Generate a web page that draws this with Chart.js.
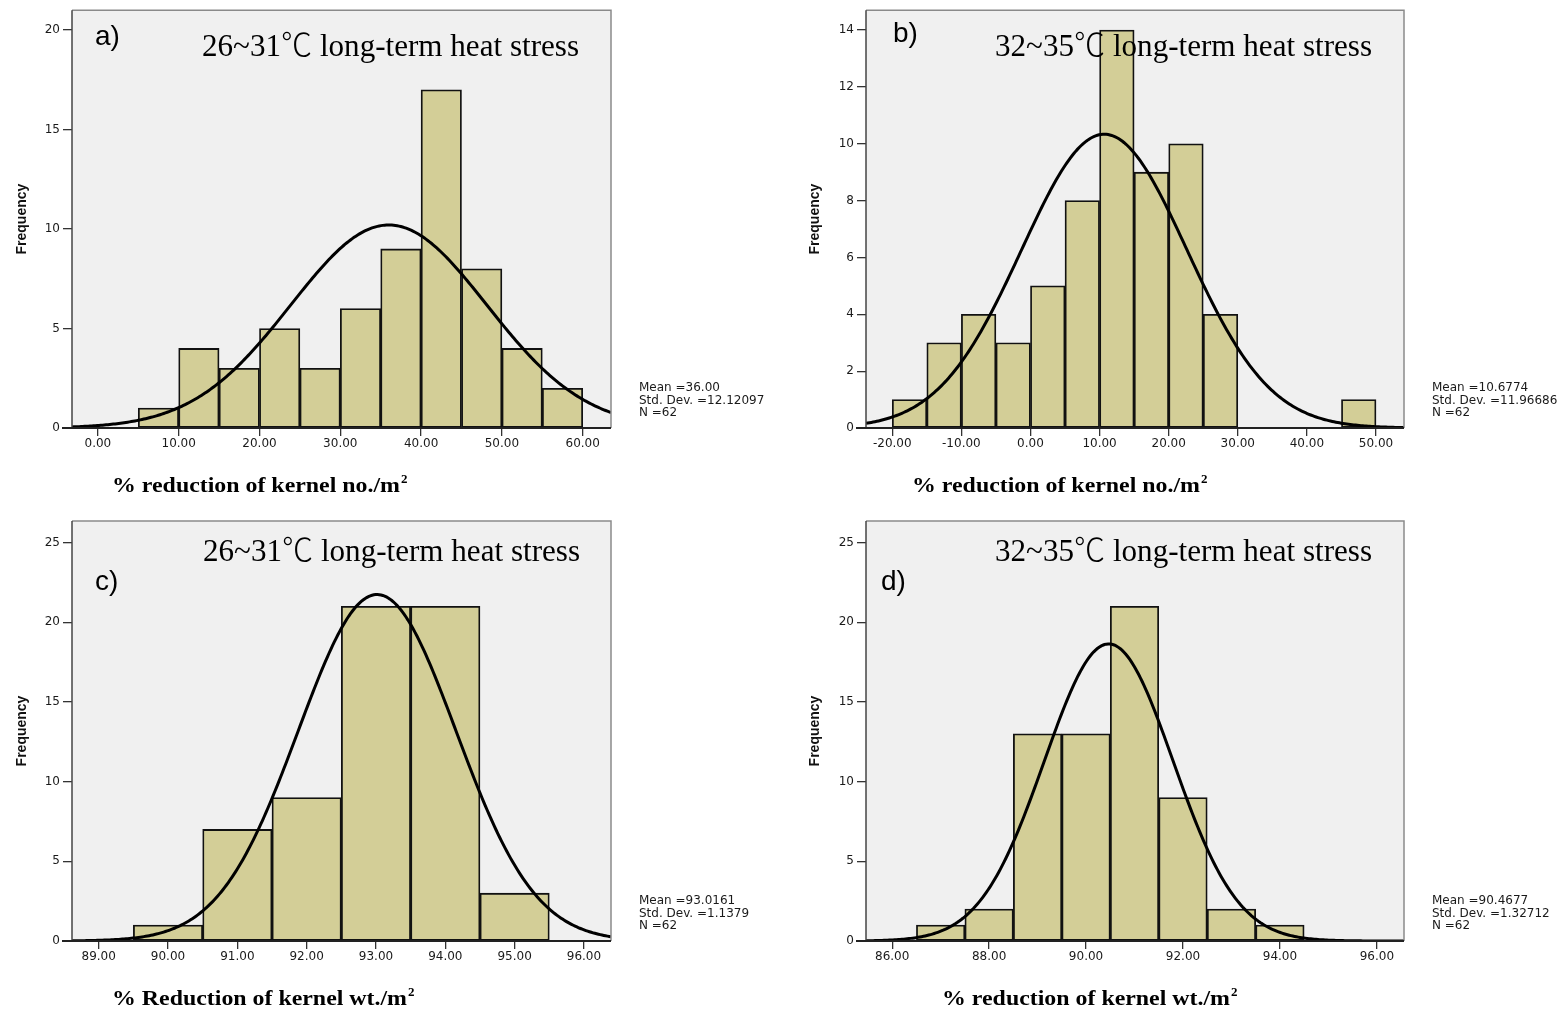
<!DOCTYPE html>
<html>
<head>
<meta charset="utf-8">
<title>Kernel reduction histograms</title>
<script src="https://cdn.jsdelivr.net/npm/chart.js@4.4.1/dist/chart.umd.min.js"></script>
<style>
  html, body { margin: 0; padding: 0; background: #fff; }
  body { width: 1568px; height: 1013px; position: relative; overflow: hidden; }
  .panel { position: absolute; }
  .panel canvas { display: block; }
</style>
</head>
<body>
<div class="panel" style="left:0;top:0"><canvas id="histA" width="784" height="506"></canvas></div>
<div class="panel" style="left:784px;top:0"><canvas id="histB" width="784" height="506"></canvas></div>
<div class="panel" style="left:0;top:506px"><canvas id="histC" width="784" height="507"></canvas></div>
<div class="panel" style="left:784px;top:506px"><canvas id="histD" width="784" height="507"></canvas></div>
<script>
// a) 26~31℃, % reduction of kernel no./m2 (bins of 5)
const binsA = [7.5, 12.5, 17.5, 22.5, 27.5, 32.5, 37.5, 42.5, 47.5, 52.5, 57.5];
const countsA = [1, 4, 3, 5, 3, 6, 9, 17, 8, 4, 2];
const xTicksA = [0, 10, 20, 30, 40, 50, 60];
const yTicksA = [0, 5, 10, 15, 20];
const statsA = ['36.00', '12.12097', '62'];

// b) 32~35℃, % reduction of kernel no./m2 (bins of 5)
const binsB = [-17.5, -12.5, -7.5, -2.5, 2.5, 7.5, 12.5, 17.5, 22.5, 27.5, 47.5];
const countsB = [1, 3, 4, 3, 5, 8, 14, 9, 10, 4, 1];
const xTicksB = [-20, -10, 0, 10, 20, 30, 40, 50];
const yTicksB = [0, 2, 4, 6, 8, 10, 12, 14];
const statsB = ['10.6774', '11.96686', '62'];

// c) 26~31℃, % reduction of kernel wt./m2 (bins of 1)
const binsC = [90, 91, 92, 93, 94, 95];
const countsC = [1, 7, 9, 21, 21, 3];
const xTicksC = [89, 90, 91, 92, 93, 94, 95, 96];
const yTicksC = [0, 5, 10, 15, 20, 25];
const statsC = ['93.0161', '1.1379', '62'];

// d) 32~35℃, % reduction of kernel wt./m2 (bins of 1)
const binsD = [87, 88, 89, 90, 91, 92, 93, 94];
const countsD = [1, 2, 13, 13, 21, 9, 2, 1];
const xTicksD = [86, 88, 90, 92, 94, 96];
const yTicksD = [0, 5, 10, 15, 20, 25];
const statsD = ['90.4677', '1.32712', '62'];

const SANS = "'Liberation Sans', Arial, sans-serif";
const TICK_FONT = "'DejaVu Sans', Verdana, sans-serif";
const SERIF = "'Liberation Serif', 'Times New Roman', 'Noto Sans CJK SC', serif";
const BAR_FILL = '#d3ce97';
const PLOT_BG = '#f0f0f0';

const panels = [
  {
    id: 'histA', bins: binsA, counts: countsA, xTicks: xTicksA, yTicks: yTicksA, stats: statsA, binWidth: 5,
    box: { left: 0, top: 0, width: 784, height: 506 },
    area: { l: 72, t: 8, r: 611, b: 428 },
    xRange: [-3.2, 63.5], yMax: 21, freqX: 22,
    label: { text: 'a)', x: 95, y: 45 },
    title: { text: '26~31\u2103 long-term heat stress', x: 202, y: 56, w: 377 },
    xTitle: { text: '% reduction of kernel no./m', x: 112, y: 492, w: 288 },
    statsPos: { x: 639, y: 391 }
  },
  {
    id: 'histB', bins: binsB, counts: countsB, xTicks: xTicksB, yTicks: yTicksB, stats: statsB, binWidth: 5,
    box: { left: 784, top: 0, width: 784, height: 506 },
    area: { l: 866, t: 8, r: 1404, b: 428 },
    xRange: [-23.8, 54.05], yMax: 14.7, freqX: 815,
    label: { text: 'b)', x: 893, y: 42 },
    title: { text: '32~35\u2103 long-term heat stress', x: 995, y: 56, w: 377 },
    xTitle: { text: '% reduction of kernel no./m', x: 912, y: 492, w: 288 },
    statsPos: { x: 1432, y: 391 }
  },
  {
    id: 'histC', bins: binsC, counts: countsC, xTicks: xTicksC, yTicks: yTicksC, stats: statsC, binWidth: 1,
    box: { left: 0, top: 506, width: 784, height: 507 },
    area: { l: 72, t: 521, r: 611, b: 941 },
    xRange: [88.615, 96.39], yMax: 26.35, freqX: 22,
    label: { text: 'c)', x: 95, y: 590 },
    title: { text: '26~31\u2103 long-term heat stress', x: 203, y: 561, w: 377 },
    xTitle: { text: '% Reduction of kernel wt./m', x: 112, y: 1005, w: 295 },
    statsPos: { x: 639, y: 904 }
  },
  {
    id: 'histD', bins: binsD, counts: countsD, xTicks: xTicksD, yTicks: yTicksD, stats: statsD, binWidth: 1,
    box: { left: 784, top: 506, width: 784, height: 507 },
    area: { l: 866, t: 521, r: 1404, b: 941 },
    xRange: [85.46, 96.56], yMax: 26.35, freqX: 815,
    label: { text: 'd)', x: 881, y: 590 },
    title: { text: '32~35\u2103 long-term heat stress', x: 995, y: 561, w: 377 },
    xTitle: { text: '% reduction of kernel wt./m', x: 942, y: 1005, w: 288 },
    statsPos: { x: 1432, y: 904 }
  }
];

// fitted normal curve scaled to counts: N * binWidth * pdf(x)
function normalCurve(mean, sd, n, width, lo, hi) {
  const pts = [];
  const steps = 300;
  for (let i = 0; i <= steps; i++) {
    const x = lo + (hi - lo) * i / steps;
    const z = (x - mean) / sd;
    pts.push({ x: x, y: n * width / (sd * Math.sqrt(2 * Math.PI)) * Math.exp(-0.5 * z * z) });
  }
  return pts;
}

// draws text squeezed/stretched to a given width
function fitText(ctx, text, x, y, w) {
  const m = ctx.measureText(text).width;
  ctx.save();
  ctx.translate(x, y);
  ctx.scale(w / m, 1);
  ctx.fillText(text, 0, 0);
  ctx.restore();
}

const histPlugin = {
  id: 'histFrame',
  beforeDraw(chart) {
    const { ctx, chartArea: a } = chart;
    ctx.save();
    ctx.fillStyle = PLOT_BG;
    ctx.fillRect(a.left, a.top, a.right - a.left, a.bottom - a.top);
    ctx.restore();
  },
  afterDatasetsDraw(chart) {
    const { ctx, chartArea: a } = chart;
    ctx.save();
    ctx.lineWidth = 1.5;
    ctx.strokeStyle = '#8a8a8a';
    ctx.beginPath();
    ctx.moveTo(a.left, a.top);
    ctx.lineTo(a.right, a.top);
    ctx.lineTo(a.right, a.bottom);
    ctx.stroke();
    ctx.strokeStyle = '#444';
    ctx.beginPath();
    ctx.moveTo(a.left, a.top);
    ctx.lineTo(a.left, a.bottom);
    ctx.stroke();
    ctx.strokeStyle = '#222';
    ctx.lineWidth = 2;
    ctx.beginPath();
    ctx.moveTo(a.left - 10, a.bottom);
    ctx.lineTo(a.right, a.bottom);
    ctx.stroke();
    ctx.restore();
  },
  afterDraw(chart) {
    const p = chart.config.options.panel;
    const ctx = chart.ctx;
    const ox = p.box.left, oy = p.box.top;
    ctx.save();
    ctx.fillStyle = '#000';
    ctx.textBaseline = 'alphabetic';
    ctx.textAlign = 'left';

    ctx.font = '28px ' + SANS;
    ctx.fillText(p.label.text, p.label.x - ox, p.label.y - oy);

    ctx.font = '300 32px ' + SERIF;
    fitText(ctx, p.title.text, p.title.x - ox, p.title.y - oy, p.title.w);

    ctx.font = 'bold 22px ' + SERIF;
    fitText(ctx, p.xTitle.text, p.xTitle.x - ox, p.xTitle.y - oy, p.xTitle.w);
    ctx.font = 'bold 13px ' + SERIF;
    ctx.fillText('2', p.xTitle.x + p.xTitle.w + 1 - ox, p.xTitle.y - 9 - oy);

    ctx.font = '12px ' + TICK_FONT;
    ctx.fillStyle = '#1a1a1a';
    const lines = ['Mean =' + p.stats[0], 'Std. Dev. =' + p.stats[1], 'N =' + p.stats[2]];
    lines.forEach((t, i) => ctx.fillText(t, p.statsPos.x - ox, p.statsPos.y + i * 12.5 - oy));
    ctx.restore();
  }
};

panels.forEach(p => {
  const mean = parseFloat(p.stats[0]);
  const sd = parseFloat(p.stats[1]);
  const n = parseInt(p.stats[2], 10);
  const curve = normalCurve(mean, sd, n, p.binWidth, p.xRange[0], p.xRange[1]);
  const bars = p.bins.map((c, i) => ({ x: c, y: p.counts[i] }));

  new Chart(document.getElementById(p.id), {
    type: 'bar',
    data: {
      datasets: [
        {
          type: 'line',
          data: curve,
          borderColor: '#000',
          borderWidth: 3,
          pointRadius: 0,
          tension: 0,
          order: 0
        },
        {
          type: 'bar',
          data: bars,
          backgroundColor: BAR_FILL,
          borderColor: '#111',
          borderWidth: 1.8,
          borderSkipped: false,
          barPercentage: 1,
          categoryPercentage: 1,
          order: 1
        }
      ]
    },
    options: {
      panel: p,
      responsive: false,
      animation: false,
      devicePixelRatio: 1,
      layout: {
        padding: {
          top: p.area.t - p.box.top,
          right: p.box.left + p.box.width - p.area.r,
          left: 0,
          bottom: 0
        }
      },
      plugins: { legend: { display: false }, tooltip: { enabled: false } },
      scales: {
        x: {
          type: 'linear',
          offset: false,
          min: p.xRange[0],
          max: p.xRange[1],
          afterBuildTicks: s => { s.ticks = p.xTicks.map(v => ({ value: v })); },
          afterFit: s => { s.height = p.box.top + p.box.height - p.area.b; },
          ticks: {
            autoSkip: false,
            maxRotation: 0,
            padding: 1,
            color: '#1a1a1a',
            font: { family: TICK_FONT, size: 12 },
            callback: v => Number(v).toFixed(2)
          },
          grid: { offset: false, drawOnChartArea: false, tickLength: 8, color: '#333', lineWidth: 1.3 },
          border: { display: false }
        },
        y: {
          type: 'linear',
          min: 0,
          max: p.yMax,
          afterBuildTicks: s => { s.ticks = p.yTicks.map(v => ({ value: v })); },
          afterFit: s => { s.width = p.area.l - p.box.left; },
          ticks: {
            autoSkip: false,
            padding: 3,
            color: '#1a1a1a',
            font: { family: TICK_FONT, size: 12 },
            callback: v => String(v)
          },
          grid: { drawOnChartArea: false, tickLength: 9, color: '#333', lineWidth: 1.3 },
          border: { display: false },
          title: {
            display: true,
            text: 'Frequency',
            color: '#111',
            font: { family: SANS, size: 14, weight: 'bold' },
            padding: { top: p.freqX - p.box.left - 8.4, bottom: 0 }
          }
        }
      }
    },
    plugins: [histPlugin]
  });
});
</script>
</body>
</html>
